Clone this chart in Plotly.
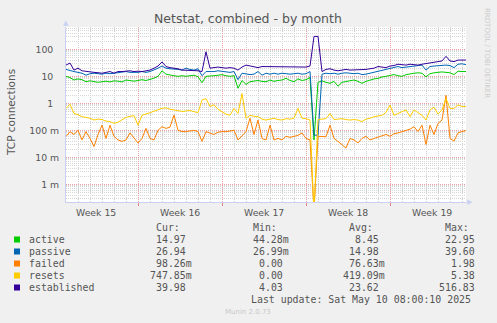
import pandas as pd
import plotly.graph_objects as go

# ---------------- data ----------------
start = "2025-04-07 00:00"
end = "2025-05-10 08:00"
step = "8h"

active = [10, 9, 7.3, 8, 7.5, 6.3, 6.8, 6.5, 6, 6.3, 6.6, 6.2, 6.8, 6.6, 6.2, 7.3, 7, 6.6, 7, 7.5,
          7, 7.7, 8.5, 10, 16, 12, 11, 10.5, 10, 10.5, 10, 10.5, 11, 9.7, 5.8, 10, 10, 10.5, 11, 11.5,
          10.5, 10, 10.5, 3.6, 7, 5, 6.3, 6.8, 7, 6.5, 6.3, 7.3, 6.5, 7, 7.3, 8.4, 7, 6.3, 8, 7,
          7.5, 9, 0.044, 6, 6.8, 6, 5.5, 6.5, 4.3, 6, 6.3, 7, 7.3, 6.5, 5.5, 6.5, 7.3, 8, 8.4, 9.5,
          10, 10.8, 11.6, 10.5, 10, 11.5, 12.4, 13, 13.5, 13, 9.5, 12.5, 13.5, 14, 14.5, 14, 13.5, 11.6, 15.5, 15,
          15]
passive = [18, 16, 15, 14, 13, 11, 12.5, 13, 12.4, 12, 13, 12.5, 13, 13.6, 14, 15, 14, 13.6, 14, 15,
           14, 15, 17, 20, 24, 20, 19, 19, 18, 17, 20, 18, 17, 19, 10.5, 15, 15, 15, 16, 15,
           15, 14, 15, 7.5, 13, 12, 11.6, 12, 15, 11, 13, 12, 13, 12, 13, 12.5, 12, 12.5, 13, 12,
           12.5, 15, 0.066, 0.066, 12, 13, 12.5, 13, 12, 13, 13.5, 13, 12.5, 13, 11.6, 12, 13, 15, 16, 17,
           19, 20, 21, 23, 21, 22, 23, 24, 25, 26, 17, 23, 24, 25, 26, 26, 25, 21, 28, 29,
           27]
failed = [0.059, 0.089, 0.07, 0.1, 0.044, 0.089, 0.05, 0.025, 0.07, 0.155, 0.05, 0.155, 0.06, 0.044, 0.039, 0.044, 0.08, 0.05, 0.034, 0.05,
          0.118, 0.05, 0.044, 0.1, 0.136, 0.118, 0.13, 0.37, 0.1, 0.09, 0.089, 0.095, 0.1, 0.09, 0.039, 0.089, 0.08, 0.07, 0.085, 0.09,
          0.089, 0.095, 0.1, 0.044, 0.06, 0.089, 0.28, 0.07, 0.24, 0.05, 0.044, 0.155, 0.044, 0.05, 0.044, 0.06, 0.055, 0.058, 0.065, 0.08,
          0.05, 0.044, 0.0001, 0.06, 0.06, 0.058, 0.155, 0.05, 0.039, 0.03, 0.022, 0.05, 0.044, 0.034, 0.05, 0.06, 0.044, 0.05, 0.055, 0.06,
          0.07, 0.06, 0.075, 0.08, 0.09, 0.1, 0.11, 0.136, 0.09, 0.155, 0.03, 0.155, 0.07, 0.18, 0.24, 1.98, 0.05, 0.04, 0.08, 0.09,
          0.098]
resets = [0.65, 0.92, 0.42, 0.38, 0.32, 0.3, 0.28, 0.24, 0.26, 0.25, 0.22, 0.21, 0.18, 0.2, 0.24, 0.3, 0.33, 0.35, 0.155, 0.36,
          0.4, 0.45, 0.49, 0.55, 0.65, 0.68, 0.6, 0.57, 0.55, 0.5, 0.52, 0.55, 0.49, 0.45, 1.33, 1.5, 0.76, 0.88, 0.6, 0.49,
          0.4, 0.36, 0.65, 0.42, 2.3, 0.28, 0.36, 0.33, 0.32, 0.26, 0.24, 0.26, 0.28, 0.25, 0.24, 0.27, 0.26, 0.28, 0.65, 0.28,
          0.27, 0.24, 0.0001, 0.25, 0.26, 0.27, 0.42, 0.25, 0.26, 0.27, 0.25, 0.24, 0.25, 0.24, 0.21, 0.26, 0.28, 0.32, 0.34, 0.36,
          0.46, 0.86, 0.36, 0.42, 0.5, 0.57, 0.32, 0.57, 0.45, 0.36, 0.24, 0.57, 0.72, 0.4, 0.57, 1.5, 0.65, 0.65, 0.88, 0.76,
          0.75]
established = [26, 31, 17, 20, 16, 15, 15, 14, 13.6, 13, 14, 15, 13, 15, 15, 16, 16, 15, 15.5, 15,
               16, 17, 20, 24, 34, 23, 21, 20, 19, 17, 17, 16, 17, 16, 15, 81, 20, 21, 22, 21,
               20, 21, 20, 17, 22, 26, 24, 23, 21, 23, 23, 22, 22, 23, 23, 22, 22, 23, 22, 23,
               22, 24, 300, 300, 15, 18, 19, 17, 16, 17, 18, 17, 17, 17, 17, 18, 19, 20, 23, 22,
               21, 24, 25, 28, 27, 26, 28, 27, 26, 28, 30, 31, 33, 35, 37, 55, 37, 35, 40, 40,
               40]

series_names = ["active", "passive", "failed", "resets", "established"]
series_colors = ["#00cc00", "#0066b3", "#ff8000", "#ffcc00", "#330099"]
cur_vals = ["14.97", "26.94", "98.26m", "747.85m", "39.98"]
min_vals = ["44.28m", "26.99m", "0.00", "0.00", "4.03"]
avg_vals = ["8.45", "14.98", "76.63m", "419.09m", "23.62"]
max_vals = ["22.95", "39.60", "1.98", "5.38", "516.83"]

y_tick_vals = [0.001, 0.01, 0.1, 1, 10, 100]
y_tick_text = ["1 m", "10 m", "100 m", "1\u00a0\u00a0", "10\u00a0\u00a0", "100\u00a0\u00a0"]
week_bounds = ["2025-04-13", "2025-04-20", "2025-04-27", "2025-05-04"]
week_mids = ["2025-04-09 12:00", "2025-04-16 12:00", "2025-04-23 12:00", "2025-04-30 12:00", "2025-05-07 12:00"]
week_labels = ["Week 15", "Week 16", "Week 17", "Week 18", "Week 19"]

title = "Netstat, combined - by month"
y_title = "TCP connections"
last_update = "Last update: Sat May 10 08:00:10 2025"

# ---------------- figure ----------------
W, H = 497, 323
L, R, T, B = 66, 31, 27, 121
PW, PH = W - L - R, H - T - B

def px(x):
    return (x - L) / PW

def py(y):
    return (H - B - y) / PH

times = pd.date_range(start, periods=len(active), freq=step)
data = [active, passive, failed, resets, established]

fig = go.Figure()
for name, col, vals in zip(series_names, series_colors, data):
    fig.add_trace(go.Scatter(x=times, y=vals, mode="lines", name=name,
                             line=dict(color=col, width=1), showlegend=False,
                             hoverinfo="skip"))

TXT = "#555555"
SANS = "DejaVu Sans"
MONO = "DejaVu Sans Mono"

minor_y = [m * 10 ** e for e in range(-4, 3) for m in range(2, 10)]

fig.update_layout(
    width=W, height=H,
    margin=dict(l=L, r=R, t=T, b=B, pad=0),
    paper_bgcolor="#f0f0f0",
    plot_bgcolor="#ffffff",
    font=dict(family=SANS, color=TXT, size=9.3),
    xaxis=dict(
        type="date", range=[start, end],
        tickmode="array", tickvals=week_bounds, ticktext=["" for _ in week_bounds],
        showticklabels=False,
        ticks="outside", ticklen=3, tickcolor="#e08080", tickwidth=1,
        showgrid=True, gridcolor="#e8a0a0", griddash="1px,1px", gridwidth=1,
        minor=dict(dtick=86400000, tick0=start, showgrid=True, gridcolor="#cfcfcf",
                   griddash="1px,1px", ticks=""),
        showline=True, linecolor="#c8cff0", linewidth=1,
        zeroline=False, fixedrange=True,
    ),
    yaxis=dict(
        type="log", range=[-3.655, 2.826],
        tickmode="array", tickvals=y_tick_vals, ticktext=y_tick_text,
        tickfont=dict(family=SANS, size=9.3, color=TXT),
        ticks="", ticklabelstandoff=4,
        showgrid=True, gridcolor="#e8a0a0", griddash="1px,1px", gridwidth=1,
        minor=dict(tickvals=minor_y, showgrid=True, gridcolor="#d6d6d6",
                   griddash="1px,1px", ticks=""),
        showline=True, linecolor="#c8cff0", linewidth=1,
        zeroline=False, fixedrange=True,
    ),
)

ann = []
# week labels placed on the date axis
for wm, wl in zip(week_mids, week_labels):
    ann.append(dict(text=wl, x=wm, y=py(212), xref="x", yref="paper",
                    xanchor="center", yanchor="middle", showarrow=False,
                    font=dict(family=SANS, size=9.3, color=TXT)))
ann.append(dict(text=title, x=px(248), y=py(19), xref="paper", yref="paper",
                xanchor="center", yanchor="middle", showarrow=False,
                font=dict(family=SANS, size=12.5, color=TXT)))
ann.append(dict(text=y_title, x=px(11), y=py(112), xref="paper", yref="paper",
                xanchor="center", yanchor="middle", showarrow=False, textangle=-90,
                font=dict(family=SANS, size=10.5, color=TXT)))
ann.append(dict(text="RRDTOOL / TOBI OETIKER", x=px(487), y=py(53), xref="paper", yref="paper",
                xanchor="center", yanchor="middle", showarrow=False, textangle=90,
                font=dict(family=SANS, size=7, color="#cccccc")))
ann.append(dict(text="Munin 2.0.73", x=px(248), y=py(312), xref="paper", yref="paper",
                xanchor="center", yanchor="middle", showarrow=False,
                font=dict(family=SANS, size=7, color="#c8c8c8")))
# axis arrows
ann.append(dict(text="\u25b2", x=px(66), y=py(23), xref="paper", yref="paper",
                xanchor="center", yanchor="middle", showarrow=False,
                font=dict(family=SANS, size=7, color="#c8d2f4")))
ann.append(dict(text="\u25b6", x=px(470), y=py(202), xref="paper", yref="paper",
                xanchor="center", yanchor="middle", showarrow=False,
                font=dict(family=SANS, size=7, color="#c8d2f4")))

FS = 9.9
row_y = [239.5, 251.5, 263.5, 275.5, 287.5]
col_edges = [194, 291, 387, 483]
headers = ["Cur:", "Min:", "Avg:", "Max:"]
for h, e in zip(headers, col_edges):
    ann.append(dict(text=h, x=px(e - 12), y=py(227.5), xref="paper", yref="paper",
                    xanchor="right", yanchor="middle", showarrow=False,
                    font=dict(family=MONO, size=FS, color=TXT)))

def cell(v):
    return v if v.endswith("m") else v + "\u00a0"

shapes = []
for i, name in enumerate(series_names):
    yy = row_y[i]
    ann.append(dict(text=name, x=px(27), y=py(yy), xref="paper", yref="paper",
                    xanchor="left", yanchor="middle", showarrow=False,
                    font=dict(family=MONO, size=FS, color=TXT)))
    for vals, e in zip([cur_vals, min_vals, avg_vals, max_vals], col_edges):
        ann.append(dict(text=cell(vals[i]), x=px(e), y=py(yy), xref="paper", yref="paper",
                        xanchor="right", yanchor="middle", showarrow=False,
                        font=dict(family=MONO, size=FS, color=TXT)))
    shapes.append(dict(type="rect", xref="paper", yref="paper",
                       x0=px(14), x1=px(20), y0=py(yy + 3), y1=py(yy - 3),
                       fillcolor=series_colors[i], line=dict(width=0)))

ann.append(dict(text=last_update, x=px(473), y=py(299.5), xref="paper", yref="paper",
                xanchor="right", yanchor="middle", showarrow=False,
                font=dict(family=MONO, size=FS, color=TXT)))

fig.update_layout(annotations=ann, shapes=shapes)
fig.write_html("out.html")
